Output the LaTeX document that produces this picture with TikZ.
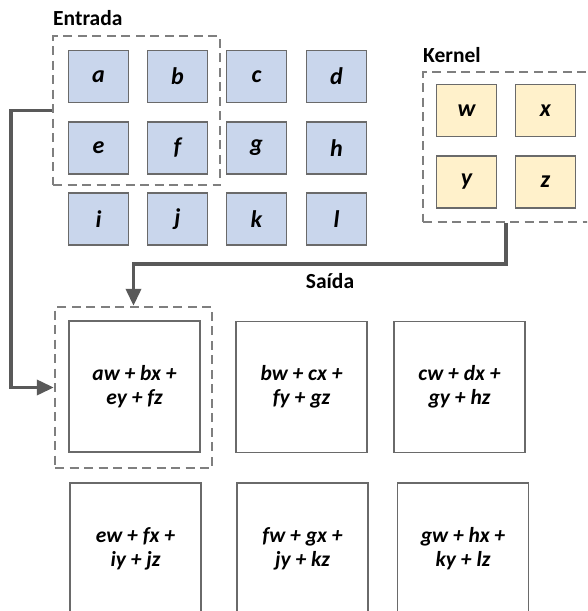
\documentclass[tikz,border=0pt]{standalone}
\usepackage{fontspec}
\setmainfont{Carlito}
\usetikzlibrary{arrows.meta}

\definecolor{cellblue}{HTML}{C9D6EC}
\definecolor{cellyellow}{HTML}{FFF1CB}
\definecolor{cellline}{HTML}{6A6A6A}
\definecolor{dashgray}{HTML}{7F7F7F}
\definecolor{arrowgray}{HTML}{595959}

\tikzset{
  incell/.style={draw=cellline, line width=1.2pt, fill=cellblue,
    minimum width=60pt, minimum height=52pt, inner sep=0pt,
    font=\fontsize{24}{26}\selectfont\bfseries\itshape},
  kcell/.style={incell, fill=cellyellow},
  outcell/.style={draw=cellline, line width=1.2pt, fill=white,
    minimum width=131pt, minimum height=131pt, inner sep=0pt, align=center,
    font=\fontsize{21.5}{24}\selectfont\bfseries\itshape},
  window/.style={draw=dashgray, line width=2.4pt, dash pattern=on 9pt off 5.5pt,
    inner sep=0pt},
  title/.style={font=\fontsize{21.5}{23}\selectfont\bfseries, inner sep=0pt, anchor=west},
  flow/.style={draw=arrowgray, line width=3.6pt,
    -{Triangle[length=17pt,width=15pt]}},
}

\begin{document}
\begin{tikzpicture}[x=1pt,y=-1pt]
  \useasboundingbox (0,0) rectangle (587,611);
  \clip (0,0) rectangle (587,611);

  % input grid
  \node[incell] (a) at (98.5,76.5) {a};
  \node[incell] (b) at (177.5,76.5) {b};
  \node[incell] (c) at (256.5,76.5) {c};
  \node[incell] (d) at (336.5,76.5) {d};
  \node[incell] (e) at (98.5,148) {e};
  \node[incell] (f) at (177.5,148) {f};
  \node[incell] (g) at (256.5,148) {g};
  \node[incell] (h) at (336.5,148) {h};
  \node[incell] (i) at (98.5,219) {i};
  \node[incell] (j) at (177.5,219) {j};
  \node[incell] (k) at (256.5,219) {k};
  \node[incell] (l) at (336.5,219) {l};

  % kernel
  \node[kcell] (w) at (466.5,110.5) {w};
  \node[kcell] (x) at (545.5,110.5) {x};
  \node[kcell] (y) at (466.5,182) {y};
  \node[kcell] (z) at (545.5,182) {z};

  % output grid
  \node[outcell] (o1) at (134.5,386.5) {aw + bx +\\ey + fz};
  \node[outcell] (o2) at (301.5,387) {bw + cx +\\fy + gz};
  \node[outcell] (o3) at (459.5,387) {cw + dx +\\gy + hz};
  \node[outcell] (o4) at (135.5,548.5) {ew + fx +\\iy + jz};
  \node[outcell] (o5) at (302.5,548.5) {fw + gx +\\jy + kz};
  \node[outcell] (o6) at (463,548.5) {gw + hx +\\ky + lz};

  % dashed windows
  \node[window, minimum width=167pt, minimum height=149pt] (inwin) at (136.5,110.5) {};
  \node[window, minimum width=166pt, minimum height=150pt] (kwin) at (506,147) {};
  \node[window, minimum width=157pt, minimum height=161pt] (outwin) at (133.5,387.5) {};

  % titles
  \node[title] (tin) at (53,18) {Entrada};
  \node[title] (tk) at (423,55) {Kernel};
  \node[title, anchor=center] (tout) at (330,281) {Saída};

  % connectors
  \draw[flow] (inwin.west) -- ++(-41,0) |- (outwin.west);
  \draw[flow] (kwin.south) -- ++(0,41) -| (outwin.north);
\end{tikzpicture}
\end{document}
